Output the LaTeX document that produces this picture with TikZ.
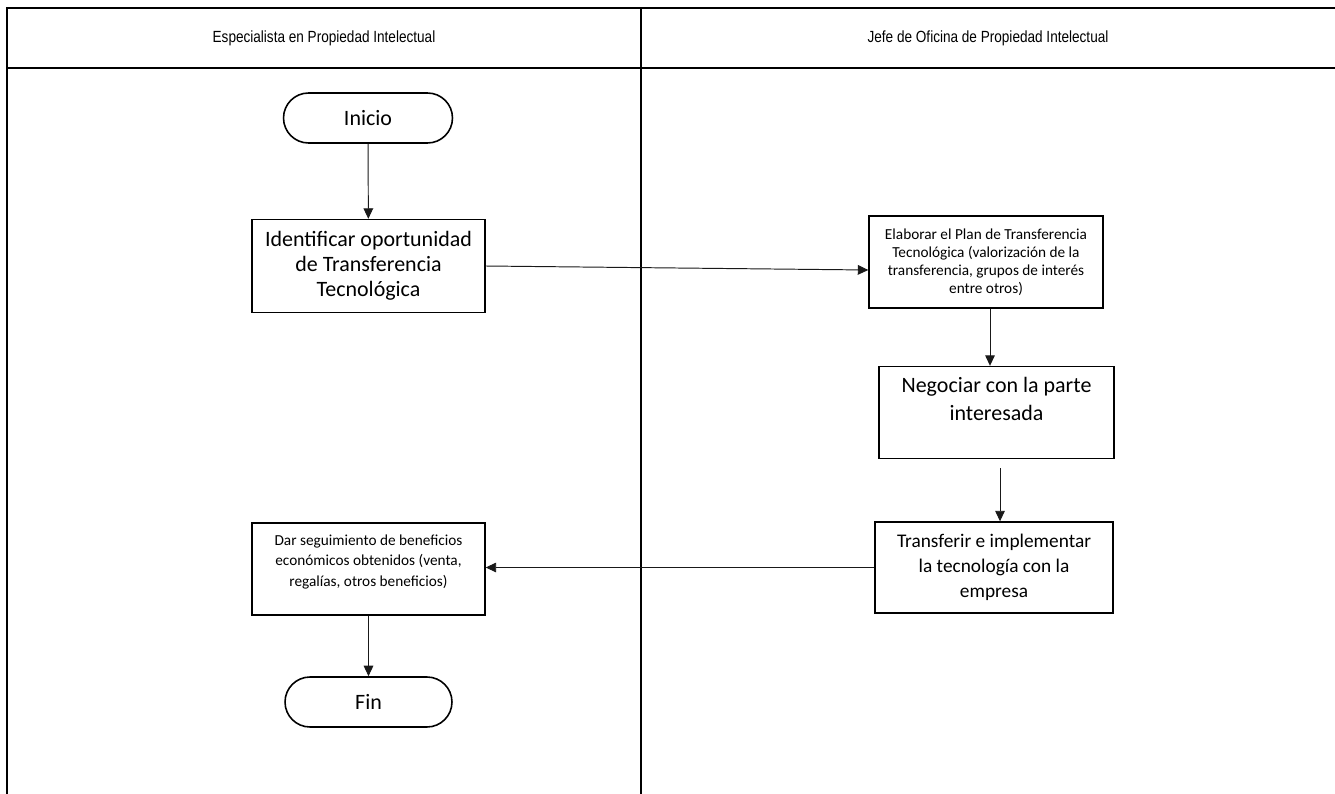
\documentclass[tikz,border=0pt]{standalone}
\usepackage{fontspec}
\setmainfont{Carlito}
\newfontfamily\headfont[FakeStretch=0.84]{Liberation Sans}
\usetikzlibrary{arrows.meta}

\tikzset{
  lane/.style={line width=1.3pt},
  terminal/.style={draw, line width=0.9pt, rounded corners=0.5cm, minimum width=3.38cm, minimum height=1cm, inner sep=0pt, font=\fontsize{12.5}{15}\selectfont},
  taskbig/.style={draw, line width=0.8pt, minimum width=4.66cm, minimum height=1.86cm, align=center, inner sep=0pt, font=\fontsize{12.5}{14.2}\selectfont},
  tasksmall/.style={draw, line width=0.8pt, minimum width=4.68cm, minimum height=1.84cm, align=center, inner sep=0pt, font=\fontsize{8.7}{10.2}\selectfont},
  flow/.style={draw=black!90, line width=0.55pt, -{Triangle[length=6pt,width=5.5pt]}},
  headtext/.style={font=\headfont\fontsize{9.2}{11}\selectfont}
}

\begin{document}
\begin{tikzpicture}[x=0.02cm,y=-0.02cm]
  \useasboundingbox (0,0) rectangle (1335,794);
  % swimlanes
  \draw[lane] (1335,8) -- (7,8) -- (7,794);
  \draw[lane] (7,68) -- (1335,68);
  \draw[lane] (641,8) -- (641,794);
  \node[headtext] (laneA) at (324,38) {Especialista en Propiedad Intelectual};
  \node[headtext] (laneB) at (988,38) {Jefe de Oficina de Propiedad Intelectual};

  % steps
  \node[terminal] (inicio) at (368,118) {Inicio};
  \node[taskbig] (ident) at (368.5,266) {Identificar oportunidad\\de Transferencia\\Tecnológica};
  \node[tasksmall] (elab) at (986,262) {Elaborar el Plan de Transferencia\\Tecnológica (valorización de la\\transferencia, grupos de interés\\entre otros)};
  \node[taskbig, minimum width=4.7cm, minimum height=1.84cm] (nego) at (996.5,412.5) {};
  \node[font=\fontsize{12.5}{16}\selectfont, align=center] (negotxt) at (996.5,399) {Negociar con la parte\\interesada};
  \node[taskbig, minimum width=4.76cm, minimum height=1.82cm, font=\fontsize{11}{14.2}\selectfont] (transf) at (994,567.5) {Transferir e implementar\\la tecnología con la\\empresa};
  \node[tasksmall, minimum width=4.66cm] (dar) at (368.5,569) {};
  \node[font=\fontsize{8.7}{11.4}\selectfont, align=center] (dartxt) at (368.5,562) {Dar seguimiento de beneficios\\económicos obtenidos (venta,\\regalías, otros beneficios)};
  \node[terminal, minimum width=3.34cm] (fin) at (368.5,702) {Fin};

  % connectors
  \draw[flow] (inicio) -- (ident);
  \draw[flow] (ident.east) -- ([yshift=-0.16cm]elab.west);
  \draw[flow] ([xshift=0.08cm]elab.south) -- ([xshift=0.08cm]elab.south |- nego.north);
  \draw[flow] ([xshift=0.07cm,yshift=-0.18cm]nego.south) -- ([xshift=0.07cm]nego.south |- transf.north);
  \draw[flow] (transf.west) -- (transf.west -| dar.east);
  \draw[flow] (dar) -- (fin);
\end{tikzpicture}
\end{document}
